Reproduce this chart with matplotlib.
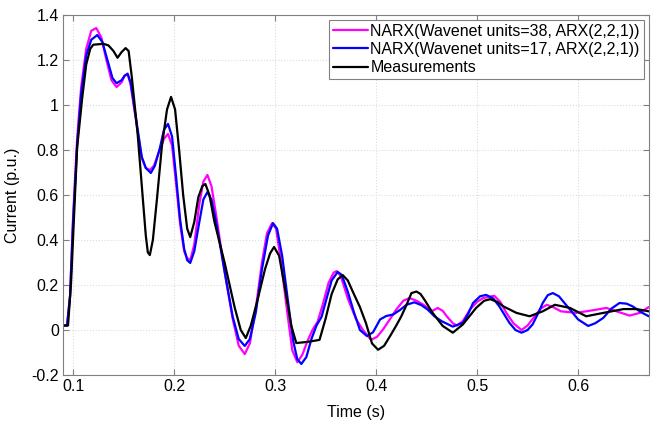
import matplotlib

matplotlib.use("Agg", force=True)

import matplotlib.pyplot as plt
from matplotlib.ticker import FormatStrFormatter, MultipleLocator

plt.rcParams["font.family"] = ["Liberation Sans", "DejaVu Sans"]

# --- data ---
t_meas = [0.090, 0.095, 0.098, 0.101, 0.104, 0.109, 0.113, 0.117, 0.120, 0.125,
          0.130, 0.135, 0.140, 0.144, 0.148, 0.152, 0.155, 0.158, 0.161, 0.164,
          0.169, 0.172, 0.174, 0.176, 0.179, 0.183, 0.188, 0.193, 0.197, 0.201,
          0.205, 0.209, 0.213, 0.216, 0.220, 0.224, 0.228, 0.231, 0.235, 0.240,
          0.250, 0.260, 0.266, 0.271, 0.276, 0.283, 0.290, 0.295, 0.299, 0.304,
          0.310, 0.316, 0.321, 0.332, 0.344, 0.350, 0.356, 0.362, 0.367, 0.372,
          0.378, 0.384, 0.390, 0.396, 0.402, 0.408, 0.414, 0.420, 0.425, 0.430,
          0.435, 0.440, 0.444, 0.448, 0.456, 0.466, 0.476, 0.486, 0.499, 0.507,
          0.513, 0.520, 0.526, 0.539, 0.552, 0.565, 0.577, 0.592, 0.608, 0.625,
          0.645, 0.658, 0.670]
i_meas = [0.02, 0.02, 0.21, 0.51, 0.81, 1.03, 1.18, 1.25, 1.268, 1.27,
          1.272, 1.265, 1.24, 1.21, 1.235, 1.253, 1.24, 1.13, 1.00, 0.867,
          0.587, 0.42, 0.345, 0.333, 0.40, 0.58, 0.82, 0.98, 1.036, 0.98,
          0.80, 0.60, 0.45, 0.413, 0.48, 0.59, 0.64, 0.649, 0.60, 0.48,
          0.30, 0.10, 0.00, -0.036, 0.02, 0.14, 0.27, 0.34, 0.369, 0.33,
          0.18, 0.02, -0.058, -0.053, -0.044, 0.05, 0.16, 0.225, 0.244, 0.22,
          0.16, 0.102, 0.03, -0.06, -0.088, -0.07, -0.026, 0.02, 0.061, 0.11,
          0.164, 0.171, 0.16, 0.134, 0.076, 0.018, -0.012, 0.025, 0.098, 0.13,
          0.137, 0.125, 0.105, 0.076, 0.061, 0.083, 0.112, 0.098, 0.061, 0.076,
          0.093, 0.093, 0.083]

t_w38 = [0.090, 0.094, 0.097, 0.100, 0.104, 0.108, 0.113, 0.118, 0.123, 0.128,
         0.133, 0.138, 0.143, 0.148, 0.151, 0.154, 0.157, 0.160, 0.163, 0.168,
         0.172, 0.176, 0.180, 0.185, 0.190, 0.194, 0.198, 0.202, 0.206, 0.210,
         0.213, 0.216, 0.220, 0.225, 0.229, 0.233, 0.237, 0.242, 0.250, 0.258,
         0.264, 0.270, 0.275, 0.281, 0.287, 0.292, 0.297, 0.301, 0.306, 0.312,
         0.317, 0.322, 0.327, 0.332, 0.337, 0.342, 0.347, 0.353, 0.358, 0.361,
         0.365, 0.372, 0.380, 0.387, 0.395, 0.401, 0.407, 0.414, 0.420, 0.427,
         0.433, 0.440, 0.447, 0.455, 0.461, 0.466, 0.470, 0.476, 0.480, 0.486,
         0.493, 0.500, 0.506, 0.517, 0.523, 0.529, 0.536, 0.544, 0.550, 0.557,
         0.563, 0.569, 0.576, 0.583, 0.598, 0.615, 0.628, 0.638, 0.651, 0.661,
         0.670]
i_w38 = [0.02, 0.02, 0.15, 0.50, 0.85, 1.08, 1.25, 1.33, 1.342, 1.30,
         1.20, 1.11, 1.08, 1.10, 1.13, 1.14, 1.09, 1.00, 0.91, 0.764,
         0.72, 0.711, 0.73, 0.79, 0.85, 0.871, 0.82, 0.65, 0.47, 0.35,
         0.32, 0.31, 0.38, 0.56, 0.66, 0.689, 0.64, 0.50, 0.26, 0.05,
         -0.07, -0.107, -0.06, 0.10, 0.30, 0.43, 0.475, 0.45, 0.30, 0.08,
         -0.09, -0.143, -0.11, -0.05, 0.00, 0.036, 0.11, 0.21, 0.255, 0.262,
         0.24, 0.14, 0.05, 0.00, -0.044, -0.03, 0.003, 0.05, 0.091, 0.13,
         0.142, 0.13, 0.112, 0.083, 0.098, 0.085, 0.061, 0.03, 0.020, 0.04,
         0.091, 0.125, 0.142, 0.152, 0.125, 0.076, 0.03, 0.0, 0.02, 0.061,
         0.095, 0.112, 0.10, 0.083, 0.076, 0.088, 0.098, 0.083, 0.064, 0.076,
         0.102]

t_w17 = [0.090, 0.094, 0.097, 0.100, 0.104, 0.108, 0.113, 0.118, 0.124, 0.129,
         0.134, 0.139, 0.143, 0.148, 0.151, 0.154, 0.157, 0.160, 0.163, 0.168,
         0.172, 0.177, 0.181, 0.186, 0.190, 0.194, 0.198, 0.202, 0.206, 0.210,
         0.213, 0.216, 0.220, 0.225, 0.229, 0.233, 0.237, 0.242, 0.250, 0.258,
         0.264, 0.270, 0.275, 0.281, 0.287, 0.293, 0.298, 0.302, 0.307, 0.313,
         0.318, 0.322, 0.326, 0.331, 0.336, 0.341, 0.346, 0.351, 0.356, 0.362,
         0.366, 0.372, 0.378, 0.384, 0.391, 0.397, 0.404, 0.410, 0.417, 0.424,
         0.430, 0.438, 0.445, 0.451, 0.458, 0.465, 0.476, 0.486, 0.491, 0.496,
         0.503, 0.509, 0.516, 0.522, 0.532, 0.538, 0.544, 0.550, 0.555, 0.560,
         0.565, 0.570, 0.575, 0.581, 0.588, 0.594, 0.600, 0.610, 0.617, 0.625,
         0.633, 0.641, 0.648, 0.654, 0.662, 0.670]
i_w17 = [0.02, 0.02, 0.15, 0.48, 0.82, 1.05, 1.22, 1.29, 1.311, 1.28,
         1.20, 1.12, 1.097, 1.11, 1.13, 1.138, 1.10, 1.01, 0.92, 0.77,
         0.72, 0.698, 0.73, 0.81, 0.89, 0.916, 0.86, 0.68, 0.49, 0.36,
         0.31, 0.298, 0.35, 0.48, 0.58, 0.613, 0.58, 0.47, 0.26, 0.06,
         -0.04, -0.071, -0.04, 0.08, 0.27, 0.42, 0.475, 0.45, 0.33, 0.12,
         -0.05, -0.13, -0.151, -0.12, -0.04, 0.02, 0.058, 0.14, 0.22, 0.258,
         0.245, 0.17, 0.08, 0.0, -0.027, -0.01, 0.047, 0.062, 0.069, 0.09,
         0.112, 0.123, 0.11, 0.091, 0.06, 0.039, 0.015, 0.032, 0.07, 0.120,
         0.15, 0.156, 0.14, 0.105, 0.032, 0.0, -0.012, 0.0, 0.025, 0.07,
         0.120, 0.155, 0.164, 0.15, 0.112, 0.08, 0.047, 0.018, 0.03, 0.054,
         0.095, 0.120, 0.117, 0.105, 0.08, 0.061]

labels = ["NARX(Wavenet units=38, ARX(2,2,1))",
          "NARX(Wavenet units=17, ARX(2,2,1))",
          "Measurements"]

fig = plt.figure(figsize=(6.56, 4.23), dpi=100)
ax = fig.add_axes([0.096, 0.1135, 0.893, 0.851])

line_kw = dict(lw=1.6, solid_joinstyle="round", solid_capstyle="round")
ax.plot(t_w38, i_w38, color="#ff00ff", label=labels[0], **line_kw)
ax.plot(t_w17, i_w17, color="#0000ff", label=labels[1], **line_kw)
ax.plot(t_meas, i_meas, color="black", label=labels[2], **line_kw)

ax.set_xlim(0.09, 0.67)
ax.set_ylim(-0.2, 1.4)
ax.xaxis.set_major_locator(MultipleLocator(0.1))
ax.yaxis.set_major_locator(MultipleLocator(0.2))
ax.xaxis.set_major_formatter(FormatStrFormatter("%g"))
ax.yaxis.set_major_formatter(FormatStrFormatter("%g"))

ax.grid(True, color="#dcdcdc", linestyle=":", linewidth=0.8)
ax.tick_params(direction="in", top=True, right=True, length=4,
               color="#808080", labelsize=11.5, pad=3)
for s in ax.spines.values():
    s.set_color("#808080")
    s.set_linewidth(0.8)

ax.set_xlabel("Time (s)", fontsize=11.5, labelpad=8)
ax.set_ylabel("Current (p.u.)", fontsize=11.5, labelpad=8)

leg = ax.legend(loc="upper right", fontsize=11.5, handlelength=2.2,
                handletextpad=0.15, borderpad=0.25, labelspacing=0.2,
                borderaxespad=0.3, fancybox=False, framealpha=1)
leg.get_frame().set_edgecolor("#808080")
leg.get_frame().set_linewidth(0.8)

fig.savefig("out.png", dpi=100)
plt.close(fig)
